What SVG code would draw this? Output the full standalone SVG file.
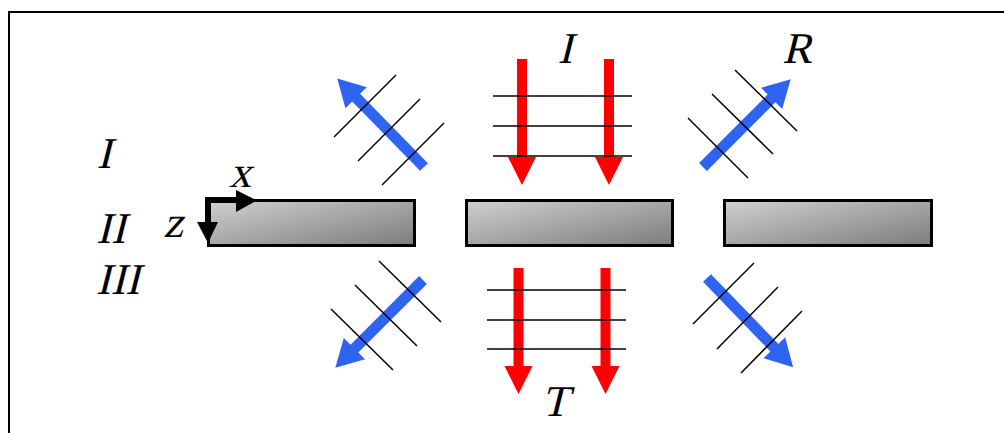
<svg xmlns="http://www.w3.org/2000/svg" width="1004" height="433" viewBox="0 0 1004 433">
  <style>
    .lbl { font-family: 'Liberation Serif', 'Times New Roman', serif; font-style: normal; font-size: 44px; fill: #000; text-anchor: middle; }
    .slab { fill: url(#slabGrad); stroke: #000; stroke-width: 3; }
    .front { stroke: #000; stroke-width: 1.5; fill: none; }
    .blue { fill: #2f64f2; }
    .red { fill: #ff0000; }
  </style>
  <defs>
    <linearGradient id="slabGrad" x1="0" y1="0" x2="1" y2="1">
      <stop offset="0" stop-color="#d0d0d0"/>
      <stop offset="1" stop-color="#7c7c7c"/>
    </linearGradient>
    <path id="blueArrow" d="M0,-5.5 L97,-5.5 L97,-15 L124,0 L97,15 L97,5.5 L0,5.5 Z"/>
    <path id="redArrow" d="M-5,0 L-5,98 L-14,98 L0,126 L14,98 L5,98 L5,0 Z"/>
  </defs>
  <rect x="9" y="12" width="1000" height="430" fill="#fff" stroke="#000" stroke-width="2"/>

  <g id="slab-left"><rect class="slab" x="208.5" y="200.5" width="206" height="45"/></g>
  <g id="slab-center"><rect class="slab" x="466.5" y="200.5" width="206" height="45"/></g>
  <g id="slab-right"><rect class="slab" x="724.5" y="200.5" width="207" height="45"/></g>

  <g id="axes">
    <rect x="205" y="197" width="33" height="6" fill="#000"/>
    <polygon points="236,190 257,200.5 236,212" fill="#000"/>
    <rect x="205" y="197" width="6" height="27" fill="#000"/>
    <polygon points="197,222 218,222 208,243" fill="#000"/>
    <text class="lbl" transform="translate(240,187) skewX(-14)">x</text>
    <text class="lbl" transform="translate(173,237) skewX(-14)">z</text>
  </g>

  <g id="connectors">
    <g id="incident">
      <use href="#redArrow" class="red" x="522" y="59"/>
      <use href="#redArrow" class="red" x="609" y="59"/>
      <line class="front" x1="493" y1="96" x2="632" y2="96"/>
      <line class="front" x1="493" y1="126" x2="632" y2="126"/>
      <line class="front" x1="493" y1="156" x2="632" y2="156"/>
    </g>
    <g id="transmitted">
      <use href="#redArrow" class="red" x="518.5" y="268"/>
      <use href="#redArrow" class="red" x="605.5" y="268"/>
      <line class="front" x1="487" y1="290" x2="626" y2="290"/>
      <line class="front" x1="487" y1="320" x2="626" y2="320"/>
      <line class="front" x1="487" y1="349" x2="626" y2="349"/>
    </g>
    <g id="reflected-left">
      <use href="#blueArrow" class="blue" transform="translate(424,167) rotate(225.6)"/>
      <line class="front" x1="334" y1="137" x2="396" y2="75"/>
      <line class="front" x1="358" y1="161" x2="420" y2="99"/>
      <line class="front" x1="382" y1="185" x2="444" y2="123"/>
    </g>
    <g id="reflected-right">
      <use href="#blueArrow" class="blue" transform="translate(703,167) rotate(-45)"/>
      <line class="front" x1="688" y1="118" x2="748" y2="178"/>
      <line class="front" x1="712" y1="94" x2="773" y2="154"/>
      <line class="front" x1="735" y1="70" x2="797" y2="131"/>
    </g>
    <g id="transmitted-left">
      <use href="#blueArrow" class="blue" transform="translate(423,280) rotate(135)"/>
      <line class="front" x1="379" y1="261" x2="441" y2="322"/>
      <line class="front" x1="355" y1="285" x2="417" y2="346"/>
      <line class="front" x1="331" y1="309" x2="393" y2="370"/>
    </g>
    <g id="transmitted-right">
      <use href="#blueArrow" class="blue" transform="translate(707,278) rotate(46)"/>
      <line class="front" x1="693" y1="324" x2="754" y2="263"/>
      <line class="front" x1="717" y1="349" x2="778" y2="287"/>
      <line class="front" x1="741" y1="373" x2="802" y2="311"/>
    </g>
  </g>

  <g id="labels">
    <text class="lbl" transform="translate(565,63) skewX(-14)">I</text>
    <text class="lbl" transform="translate(797,63) skewX(-14)">R</text>
    <text class="lbl" transform="translate(555,416) skewX(-14)">T</text>
    <text class="lbl" transform="translate(104,168) skewX(-14)">I</text>
    <text class="lbl" transform="translate(111,243) skewX(-14)">II</text>
    <text class="lbl" transform="translate(118,294) skewX(-14)">III</text>
  </g>
</svg>
